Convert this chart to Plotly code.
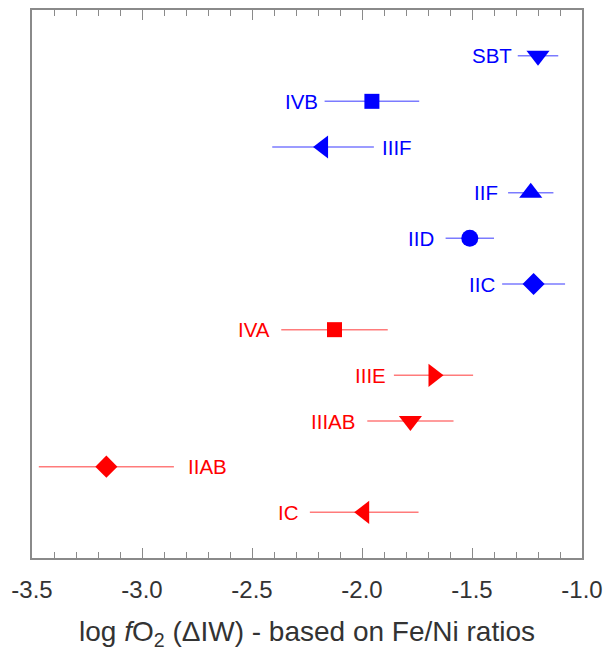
import plotly.graph_objects as go

# Data (top to bottom in the chart)
groups = ["SBT", "IVB", "IIIF", "IIF", "IID", "IIC", "IVA", "IIIE", "IIIAB", "IIAB", "IC"]
fo2 = [-1.20, -1.955, -2.177, -1.233, -1.51, -1.22, -2.125, -1.675, -1.78, -3.162, -1.99]
err = [0.092, 0.215, 0.231, 0.103, 0.11, 0.143, 0.242, 0.18, 0.196, 0.307, 0.247]
colour_class = ["blue"] * 6 + ["red"] * 5
symbols = ["triangle-down", "square", "triangle-left", "triangle-up", "circle", "diamond",
           "square", "triangle-right", "triangle-down", "diamond", "triangle-left"]
label_side = ["left", "left", "right", "left", "left", "left", "left", "left", "left", "right", "left"]
label_gap = [5, 6, 7, 9, 11, 6, 10, 7, 11, 13, 10]

x_ticks = [-3.5, -3.0, -2.5, -2.0, -1.5, -1.0]
x_tick_text = ["-3.5", "-3.0", "-2.5", "-2.0", "-1.5", "-1.0"]

marker_col = {"blue": "#0000ff", "red": "#ff0000"}
bar_col = {"blue": "rgba(90,90,255,0.8)", "red": "rgba(255,90,90,0.8)"}
sizes = {"triangle-down": 20, "triangle-up": 20, "triangle-left": 20, "triangle-right": 20,
         "square": 15, "circle": 17, "diamond": 17}

n = len(groups)
ypos = [n - 1 - i for i in range(n)]

fig = go.Figure()
for i in range(n):
    c = colour_class[i]
    fig.add_trace(go.Scatter(
        x=[fo2[i]], y=[ypos[i]], mode="markers",
        marker=dict(symbol=symbols[i], size=sizes[symbols[i]], color=marker_col[c],
                    line=dict(width=0)),
        error_x=dict(type="data", array=[err[i]], color=bar_col[c], thickness=1.5, width=0),
        showlegend=False, hoverinfo="skip"))
    if label_side[i] == "left":
        ax_x, anchor, shift = fo2[i] - err[i], "right", -label_gap[i]
    else:
        ax_x, anchor, shift = fo2[i] + err[i], "left", label_gap[i]
    fig.add_annotation(x=ax_x, y=ypos[i], text=groups[i], showarrow=False,
                       xanchor=anchor, yanchor="middle", xshift=shift, borderpad=0,
                       font=dict(family="Liberation Sans, Arial, sans-serif", size=20.5,
                                 color=marker_col[c]))

axis_col = "#8a8a8a"
fig.update_layout(
    width=614, height=651,
    margin=dict(l=31.5, r=32.3, t=8.3, b=93),
    paper_bgcolor="white", plot_bgcolor="white",
    font=dict(family="Liberation Sans, Arial, sans-serif", color="#333333"),
    xaxis=dict(
        range=[-3.5, -1.0], tickvals=x_ticks, ticktext=x_tick_text,
        ticks="inside", ticklen=10, tickwidth=1.2, tickcolor=axis_col,
        minor=dict(dtick=0.1, ticks="inside", ticklen=6, tickwidth=1, tickcolor=axis_col),
        showline=True, linecolor=axis_col, linewidth=1.5, mirror="ticks",
        showgrid=False, zeroline=False,
        tickfont=dict(size=24, color="#333333"), ticklabelstandoff=9,
        title=dict(text="log <i>f</i>O<sub>2</sub> (ΔIW) - based on Fe/Ni ratios",
                   font=dict(size=28, color="#333333"), standoff=20),
    ),
    yaxis=dict(
        range=[-1, 11], showticklabels=False, ticks="",
        showline=True, linecolor=axis_col, linewidth=1.5, mirror=True,
        showgrid=False, zeroline=False,
    ),
)

fig.write_html("out.html")
